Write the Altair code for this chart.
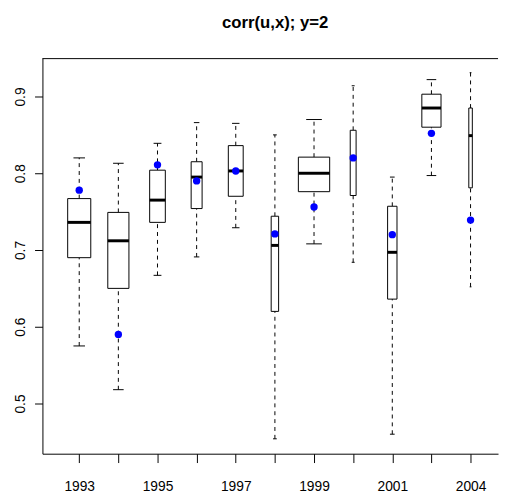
import altair as alt
import pandas as pd

# ---- data ----
years = ["1993", "1994", "1995", "1996", "1997", "1998", "1999", "2000", "2001", "2002", "2004"]
positions = [1, 2, 3, 4, 5, 6, 7, 8, 9, 10, 11]
whisker_low = [0.575, 0.518, 0.667, 0.691, 0.729, 0.454, 0.708, 0.684, 0.460, 0.797, 0.652]
q1 = [0.690, 0.650, 0.736, 0.754, 0.770, 0.620, 0.776, 0.771, 0.636, 0.860, 0.781]
median = [0.736, 0.712, 0.765, 0.795, 0.803, 0.706, 0.800, 0.820, 0.697, 0.885, 0.849]
q3 = [0.767, 0.749, 0.804, 0.815, 0.836, 0.744, 0.821, 0.856, 0.757, 0.903, 0.885]
whisker_high = [0.820, 0.813, 0.839, 0.866, 0.865, 0.850, 0.870, 0.914, 0.795, 0.922, 0.931]
observed = [0.778, 0.590, 0.811, 0.790, 0.803, 0.721, 0.756, 0.820, 0.720, 0.852, 0.739]
box_width = [0.59, 0.54, 0.40, 0.28, 0.38, 0.19, 0.80, 0.15, 0.24, 0.49, 0.09]

df = pd.DataFrame({
    "pos": positions, "year": years, "lo": whisker_low, "q1": q1, "med": median,
    "q3": q3, "hi": whisker_high, "obs": observed, "w": box_width,
})

W, H = 463, 402
FONT = "Liberation Sans"

label_arr = "[" + ",".join("'%s'" % y for y in years) + "]"
xax = alt.Axis(values=positions, tickSize=9, labelPadding=28, labelBaseline="alphabetic",
               labelFontSize=14, labelOverlap=False, domain=True, title=None,
               labelExpr="datum.value % 2 == 1 ? " + label_arr + "[datum.value - 1] : ''")
yax = alt.Axis(values=[0.5, 0.6, 0.7, 0.8, 0.9], format=".1f", tickSize=8, labelAngle=270,
               labelAlign="center", labelBaseline="alphabetic", labelPadding=10,
               labelFontSize=14, domain=True, title=None)
xs = alt.Scale(domain=[0.06, 0.06 + W / 39.77], nice=False, zero=False)
ys = alt.Scale(domain=[0.4346, 0.95], nice=False, zero=False)

base = alt.Chart(df).transform_calculate(
    xl="datum.pos - datum.w / 2", xr="datum.pos + datum.w / 2",
    sl="datum.pos - datum.w / 4", sr="datum.pos + datum.w / 4",
)

def X(f):
    return alt.X(f, type="quantitative", scale=xs, axis=xax)

def Y(f):
    return alt.Y(f, type="quantitative", scale=ys, axis=yax)

whisk_up = base.mark_rule(color="black", strokeWidth=1, strokeDash=[4, 4]).encode(
    x=X("pos"), y=Y("q3"), y2="hi")
whisk_dn = base.mark_rule(color="black", strokeWidth=1, strokeDash=[4, 4]).encode(
    x=X("pos"), y=Y("lo"), y2="q1")
staple_up = base.mark_rule(color="black", strokeWidth=1).encode(x=X("sl"), x2="sr", y=Y("hi"))
staple_dn = base.mark_rule(color="black", strokeWidth=1).encode(x=X("sl"), x2="sr", y=Y("lo"))
boxes = base.mark_rect(fill="white", stroke="black", strokeWidth=1).encode(
    x=X("xl"), x2="xr", y=Y("q1"), y2="q3")
medians = base.mark_rule(color="black", strokeWidth=3).encode(x=X("xl"), x2="xr", y=Y("med"))
points = base.mark_circle(color="#0000ff", size=56, opacity=1).encode(x=X("pos"), y=Y("obs"))
top_line = alt.Chart(alt.Data(values=[{"a": 1}])).mark_rule(color="black", strokeWidth=1).encode(
    x=alt.value(0), x2=alt.value(W), y=alt.value(0.5))

chart = alt.layer(
    whisk_up, whisk_dn, staple_up, staple_dn, boxes, medians, points, top_line
).properties(
    width=W, height=H,
    title=alt.TitleParams("corr(u,x); y=2", font=FONT, fontSize=17, fontWeight="bold",
                          anchor="middle", frame="group", baseline="alphabetic",
                          offset=14, dx=5, color="black"),
    autosize=alt.AutoSizeParams(type="none"),
    padding={"left": 35, "top": 47, "right": 2, "bottom": 36},
).configure_view(stroke=None).configure_axis(
    labelFont=FONT, labelColor="black", tickColor="black", domainColor="black",
    grid=False,
)

chart.save("out.html", embed_options={"renderer": "svg", "actions": False})
